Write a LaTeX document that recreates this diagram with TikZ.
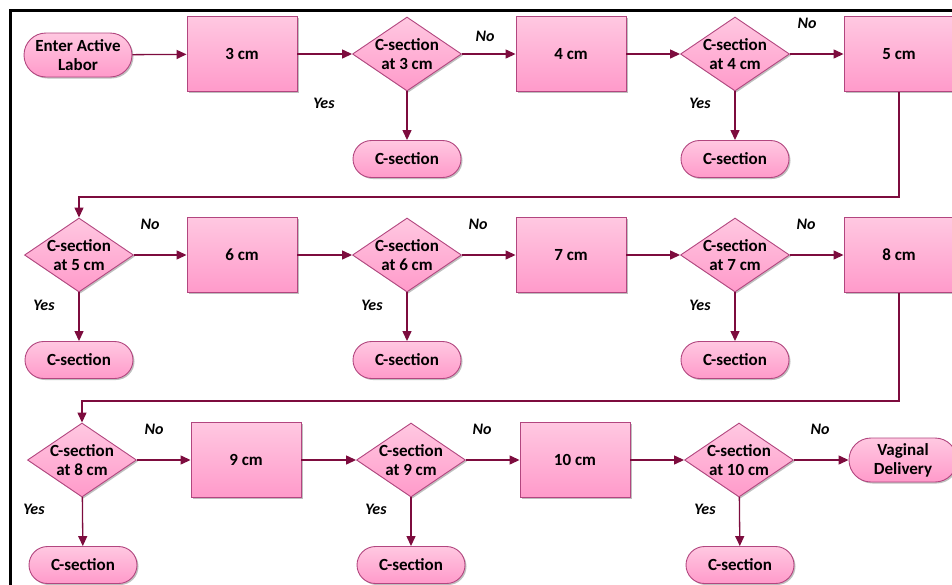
\documentclass[tikz,border=0pt]{standalone}
\usepackage{fontspec}
\setmainfont{Carlito}
\usetikzlibrary{shapes.geometric,shapes.misc,arrows.meta,shadows}
\definecolor{rim}{HTML}{B2467F}
\definecolor{wire}{HTML}{7D0C3E}
\definecolor{pinktop}{HTML}{FFC8E1}
\definecolor{pinkbot}{HTML}{FF9ACA}

\begin{document}
\begin{tikzpicture}[x=1pt,y=-1pt,font=\fontsize{17}{19}\selectfont\bfseries,
	every node/.style={align=center},
	box/.style={draw=rim,line width=0.9pt,top color=pinktop,bottom color=pinkbot,
		drop shadow={shadow xshift=1.5pt,shadow yshift=-1.5pt,fill=black,opacity=0.25}},
	stepbox/.style={box,rectangle,minimum width=110pt,minimum height=75pt},
	ask/.style={box,diamond,aspect=1.47,inner sep=-4pt,minimum width=109pt,minimum height=74pt},
	endbox/.style={box,rounded rectangle,minimum width=110pt,minimum height=37pt,inner sep=1pt},
	tag/.style={font=\fontsize{16}{18}\selectfont\bfseries\itshape},
	link/.style={draw=wire,line width=1.3pt,-{Triangle[length=10pt,width=9pt]}}]
		\useasboundingbox (0,0) rectangle (952,584);
		\clip (0,0) rectangle (952,584);
		\draw[line width=3pt] (10,10) rectangle (1000,650);

		% first row
		\path (78,55) node[endbox,minimum height=44pt] (l0) {Enter Active\\Labor}
		(242,54) node[stepbox] (s3) {3 cm}
		(407,54) node[ask] (d3) {C-section\\at 3 cm}
		(407,159) node[endbox] (c3) {C-section}
		(571,54) node[stepbox] (s4) {4 cm}
		(735,54) node[ask] (d4) {C-section\\at 4 cm}
		(735,159) node[endbox] (c4) {C-section}
		(899,54) node[stepbox] (s5) {5 cm};

		% second row
		\path (79,255) node[ask] (d5) {C-section\\at 5 cm}
		(79,360) node[endbox] (c5) {C-section}
		(242,255) node[stepbox] (s6) {6 cm}
		(407,255) node[ask] (d6) {C-section\\at 6 cm}
		(407,360) node[endbox] (c6) {C-section}
		(571,255) node[stepbox] (s7) {7 cm}
		(735,255) node[ask] (d7) {C-section\\at 7 cm}
		(735,360) node[endbox] (c7) {C-section}
		(899,255) node[stepbox] (s8) {8 cm};

		% third row
		\path (82,460) node[ask] (d8) {C-section\\at 8 cm}
		(83,565) node[endbox] (c8) {C-section}
		(246,460) node[stepbox] (s9) {9 cm}
		(411,460) node[ask] (d9) {C-section\\at 9 cm}
		(411,565) node[endbox] (c9) {C-section}
		(575,460) node[stepbox] (s10) {10 cm}
		(739,460) node[ask] (d10) {C-section\\at 10 cm}
		(740,565) node[endbox] (c10) {C-section}
		(903,460) node[endbox,minimum height=44pt] (v) {Vaginal\\Delivery};

		% answers
		\path (485,36) node[tag] (n3) {No}
		(807,23) node[tag] (n4) {No}
		(150,224) node[tag] (n5) {No}
		(478,224) node[tag] (n6) {No}
		(806,224) node[tag] (n7) {No}
		(154,429) node[tag] (n8) {No}
		(482,429) node[tag] (n9) {No}
		(820,429) node[tag] (n10) {No}
		(324,103) node[tag] (y3) {Yes}
		(700,103) node[tag] (y4) {Yes}
		(44,305) node[tag] (y5) {Yes}
		(372,305) node[tag] (y6) {Yes}
		(700,305) node[tag] (y7) {Yes}
		(34,509) node[tag] (y8) {Yes}
		(376,509) node[tag] (y9) {Yes}
		(705,509) node[tag] (y10) {Yes};

		\coordinate (k1) at (490,197);
		\coordinate (k2) at (490,401);

		\draw[link] (l0) -- (s3);
		\draw[link] (s3) -- (d3);
		\draw[link] (d3) -- (s4);
		\draw[link] (d3) -- (c3);
		\draw[link] (s4) -- (d4);
		\draw[link] (d4) -- (s5);
		\draw[link] (d4) -- (c4);
		\draw[link] (s5.south) |- (k1) -| (d5.north);
		\draw[link] (d5) -- (s6);
		\draw[link] (d5) -- (c5);
		\draw[link] (s6) -- (d6);
		\draw[link] (d6) -- (s7);
		\draw[link] (d6) -- (c6);
		\draw[link] (s7) -- (d7);
		\draw[link] (d7) -- (s8);
		\draw[link] (d7) -- (c7);
		\draw[link] (s8.south) |- (k2) -| (d8.north);
		\draw[link] (d8) -- (s9);
		\draw[link] (d8) -- (c8);
		\draw[link] (s9) -- (d9);
		\draw[link] (d9) -- (s10);
		\draw[link] (d9) -- (c9);
		\draw[link] (s10) -- (d10);
		\draw[link] (d10) -- (v);
		\draw[link] (d10) -- (c10);
	\end{tikzpicture}
\end{document}
